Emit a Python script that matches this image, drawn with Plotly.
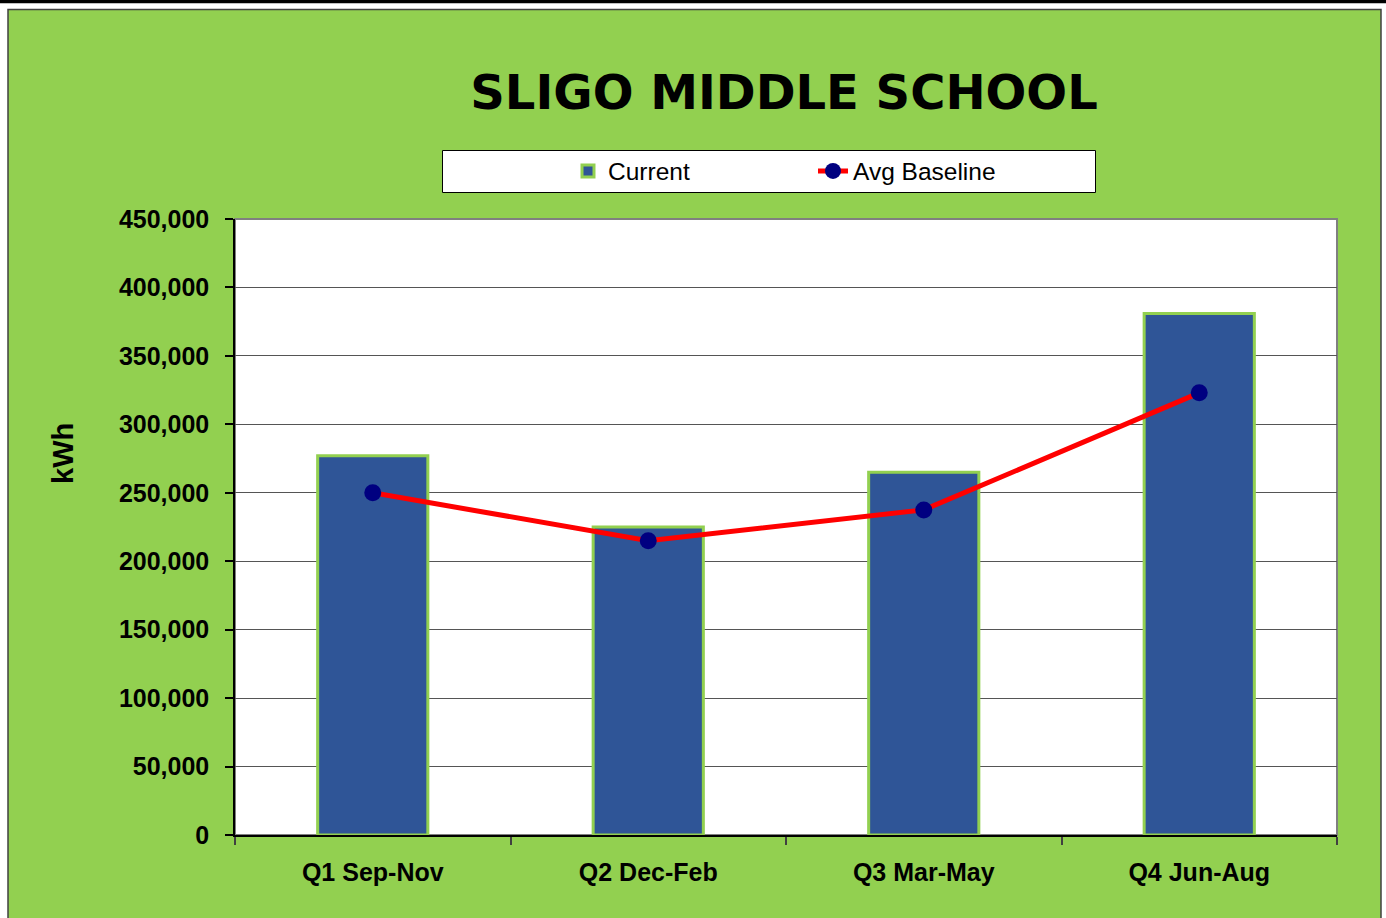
import plotly.graph_objects as go

categories = ["Q1 Sep-Nov", "Q2 Dec-Feb", "Q3 Mar-May", "Q4 Jun-Aug"]
current = [277000, 225000, 265000, 381000]
avg_baseline = [250000, 215000, 237500, 323000]
y_ticks = [0, 50000, 100000, 150000, 200000, 250000, 300000, 350000, 400000, 450000]
y_tick_labels = ["0", "50,000", "100,000", "150,000", "200,000", "250,000",
                 "300,000", "350,000", "400,000", "450,000"]

W, H = 1386, 918
L, R, T, B = 235, 1337, 219, 835
pw, ph = R - L, B - T


def px(x):
    return (x - L) / pw


def py(y):
    return (B - y) / ph


GREEN = "#92D050"
BLUE = "#2F5597"
FONT = "Liberation Sans, Arial, sans-serif"

fig = go.Figure()
fig.add_trace(go.Bar(
    x=categories, y=current, name="Current",
    marker=dict(color=BLUE, line=dict(color=GREEN, width=3)),
    width=0.4,
))
fig.add_trace(go.Scatter(
    x=categories, y=avg_baseline, name="Avg Baseline", mode="lines+markers",
    line=dict(color="#FF0000", width=5),
    marker=dict(color="#000080", size=17),
))

shapes = [
    # green outer panel
    dict(type="rect", xref="paper", yref="paper", layer="below",
         x0=px(8), x1=px(1381), y0=py(925), y1=py(9.5),
         fillcolor=GREEN, line=dict(color="#404040", width=1.5)),
    # black band at top
    dict(type="rect", xref="paper", yref="paper", layer="below",
         x0=px(-5), x1=px(W + 5), y0=py(3.3), y1=py(-5),
         fillcolor="black", line=dict(width=0)),
    # plot area (white)
    dict(type="rect", xref="paper", yref="paper", layer="below",
         x0=0, x1=1, y0=0, y1=1,
         fillcolor="white", line=dict(color="#808080", width=2)),
    # legend box
    dict(type="rect", xref="paper", yref="paper", layer="below",
         x0=px(442.5), x1=px(1095.5), y0=py(192.5), y1=py(150.5),
         fillcolor="white", line=dict(color="black", width=1)),
]

fig.update_layout(
    width=W, height=H,
    margin=dict(l=L, r=W - R, t=T, b=H - B, pad=0),
    paper_bgcolor="white",
    plot_bgcolor="rgba(0,0,0,0)",
    shapes=shapes,
    showlegend=True,
    title=dict(text="<b>SLIGO MIDDLE SCHOOL</b>", x=784 / W, xanchor="center",
               y=1 - 92 / H, yanchor="middle",
               font=dict(family="DejaVu Sans", size=48, color="black")),
    legend=dict(orientation="h", x=px(568), xanchor="left", y=py(171), yanchor="middle",
                bgcolor="rgba(0,0,0,0)", borderwidth=0,
                font=dict(family=FONT, size=24.5, color="black"),
                entrywidth=200, entrywidthmode="pixels", traceorder="normal"),
    annotations=[dict(text="<b>kWh</b>", xref="paper", yref="paper",
                      x=px(63), y=py(454), xanchor="center", yanchor="middle",
                      textangle=-90, showarrow=False,
                      font=dict(family=FONT, size=29, color="black"))],
    xaxis=dict(
        type="category", range=[-0.5, 3.5],
        showline=True, linecolor="black", linewidth=1.5,
        ticks="outside", ticklen=8, tickcolor="#404040", tickwidth=1.5,
        tickson="boundaries", showgrid=False,
        tickvals=categories, ticktext=[f"<b>{c}</b>" for c in categories],
        tickfont=dict(family=FONT, size=25, color="black"),
        ticklabelstandoff=14,
    ),
    xaxis2=dict(
        overlaying="x", range=[-0.5, 3.5], showline=False, showgrid=False,
        tickvals=[-0.5, 0.5, 1.5, 2.5, 3.5], ticks="inside", ticklen=8,
        tickcolor="#404040", tickwidth=1.5, showticklabels=False, side="bottom",
        anchor="y", zeroline=False,
    ),
    yaxis=dict(
        range=[0, 450000], tickvals=y_ticks, ticktext=[f"<b>{t}</b>" for t in y_tick_labels],
        showline=True, linecolor="black", linewidth=1.5,
        ticks="outside", ticklen=8, tickcolor="black", tickwidth=1.5,
        showgrid=True, gridcolor="#555555", gridwidth=1, zeroline=False,
        tickfont=dict(family=FONT, size=25, color="black"),
        ticklabelstandoff=11,
    ),
    bargap=0.6,
)
fig.write_html("out.html")
